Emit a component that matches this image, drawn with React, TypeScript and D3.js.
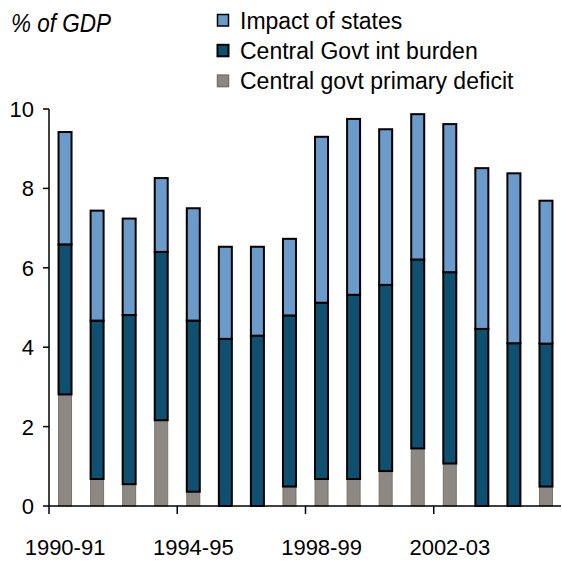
import React from "react";
import * as d3 from "d3";

const categories = [
  "1990-91", "1991-92", "1992-93", "1993-94", "1994-95", "1995-96", "1996-97", "1997-98",
  "1998-99", "1999-00", "2000-01", "2001-02", "2002-03", "2003-04", "2004-05", "2005-06",
];
// Central govt primary deficit
const primaryDeficit = [2.81, 0.68, 0.55, 2.16, 0.36, 0, 0, 0.49, 0.68, 0.68, 0.88, 1.45, 1.07, 0, 0, 0.49];
// Central Govt int burden
const intBurden = [3.78, 3.99, 4.26, 4.24, 4.31, 4.21, 4.29, 4.31, 4.44, 4.64, 4.69, 4.76, 4.82, 4.46, 4.10, 3.60];
// Impact of states
const statesImpact = [2.83, 2.77, 2.43, 1.86, 2.83, 2.32, 2.24, 1.93, 4.18, 4.43, 3.92, 3.66, 3.73, 4.05, 4.28, 3.60];

const yTicks = [0, 2, 4, 6, 8, 10];
const xLabelIdx = [0, 4, 8, 12];

const seriesNames = ["Impact of states", "Central Govt int burden", "Central govt primary deficit"];
const colors = { states: "#6B9BCB", burden: "#0F5070", deficit: "#8D8884" };

const W = 562, H = 562;
const left = 49, right = 562, top = 109, bottom = 506;
const FONT = "'Liberation Sans', Arial, sans-serif";

export default function App() {
  const x = d3.scaleBand<string>().domain(categories).range([left, right]).paddingInner(0).paddingOuter(0);
  const y = d3.scaleLinear().domain([0, 10]).range([bottom, top]);
  const bw = 13;

  const rows = categories.map((c, i) => ({
    c,
    deficit: primaryDeficit[i],
    burden: intBurden[i],
    states: statesImpact[i],
  }));
  const stack = d3.stack<any>().keys(["deficit", "burden", "states"]);
  const layers = stack(rows);

  const styleFor: Record<string, { fill: string; stroke: string; sw: number }> = {
    deficit: { fill: colors.deficit, stroke: "#77726d", sw: 1 },
    burden: { fill: colors.burden, stroke: "#000", sw: 2 },
    states: { fill: colors.states, stroke: "#000", sw: 2 },
  };

  const legendItems = [
    { name: seriesNames[0], key: "states" },
    { name: seriesNames[1], key: "burden" },
    { name: seriesNames[2], key: "deficit" },
  ];

  return (
    <svg width={W} height={H} style={{ position: "absolute", left: 0, top: 0, background: "#fff" }} fontFamily={FONT}>
      <text x={11} y={0} fontSize={22.5} fontStyle="italic" fill="#000"
        transform="translate(0,31.5) scale(1,1.15)">% of GDP</text>
      {legendItems.map((it, i) => (
        <g key={it.key}>
          <rect x={217.5} y={14.5 + i * 30.3} width={11} height={11.5}
            fill={colors[it.key as keyof typeof colors]}
            stroke={it.key === "deficit" ? "#77726d" : "#000"} strokeWidth={it.key === "burden" ? 2 : 1.5} />
          <text x={240} y={0} fontSize={23} fill="#000"
            transform={`translate(0,${28.5 + i * 30.3}) scale(1,1.04)`}>{it.name}</text>
        </g>
      ))}

      {layers.map((layer) => (
        <g key={layer.key}>
          {layer.map((d, i) => {
            const v0 = d[0], v1 = d[1];
            if (v1 - v0 <= 0.001) return null;
            const s = styleFor[layer.key];
            const cx = (x(categories[i]) as number) + x.bandwidth() / 2;
            return (
              <rect key={i} x={cx - bw / 2} y={y(v1)} width={bw} height={y(v0) - y(v1)}
                fill={s.fill} stroke={s.stroke} strokeWidth={s.sw} />
            );
          })}
        </g>
      ))}

      <line x1={left} x2={left} y1={top} y2={bottom} stroke="#000" strokeWidth={1.5} />
      {yTicks.map((t) => (
        <g key={t}>
          <line x1={43} x2={left} y1={y(t)} y2={y(t)} stroke="#000" strokeWidth={1.5} />
          <text x={34} y={y(t) + 8} textAnchor="end" fontSize={22} fill="#000">{t}</text>
        </g>
      ))}
      <line x1={left} x2={561} y1={bottom} y2={bottom} stroke="#000" strokeWidth={1.5} />
      {xLabelIdx.map((i) => {
        const bx = x(categories[i]) as number;
        return (
          <g key={i}>
            <line x1={bx} x2={bx} y1={bottom} y2={bottom + 8} stroke="#000" strokeWidth={1.5} />
            <text x={bx + x.bandwidth() / 2} y={555} textAnchor="middle" fontSize={22} fill="#000">{categories[i]}</text>
          </g>
        );
      })}
    </svg>
  );
}
